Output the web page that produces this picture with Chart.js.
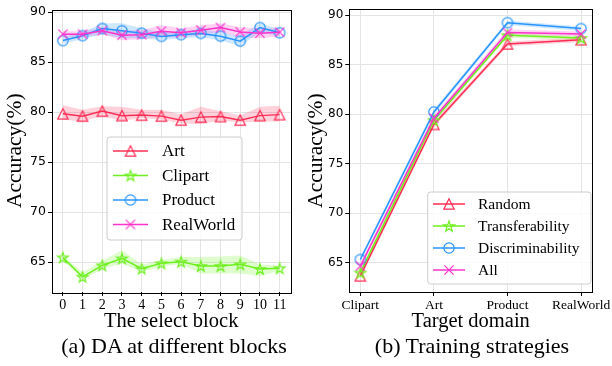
<!DOCTYPE html>
<html>
<head>
<meta charset="utf-8">
<script src="https://cdn.jsdelivr.net/npm/chart.js@4.4.1/dist/chart.umd.min.js"></script>
<style>
  html, body { margin: 0; padding: 0; background: #fff; }
  #wrap { position: relative; width: 612px; height: 366px; overflow: hidden; }
  canvas { position: absolute; top: 0; }
  .cap { position: absolute; font-family: "Liberation Serif", "Times New Roman", serif; font-size: 22px; line-height: 26px; white-space: nowrap; transform: translateX(-50%); color: #000; }
</style>
</head>
<body>
<div id="wrap">
  <canvas id="c1" width="298" height="366" style="left:0px"></canvas>
  <canvas id="c2" width="314" height="366" style="left:298px"></canvas>
  <div class="cap" style="left:174px; top:333px">(a) DA at different blocks</div>
  <div class="cap" style="left:472px; top:333px">(b) Training strategies</div>
</div>
<script>
// ---------- data: (a) DA at different blocks ----------
const blocks = [0, 1, 2, 3, 4, 5, 6, 7, 8, 9, 10, 11];
const artMean = [79.83, 79.6, 80.1, 79.65, 79.7, 79.6, 79.2, 79.5, 79.55, 79.2, 79.65, 79.75];
const artHi   = [80.7, 80.25, 80.6, 80.55, 80.25, 80.25, 79.8, 80.55, 80.1, 79.65, 80.55, 80.65];
const artLo   = [79.25, 79.05, 79.6, 79.1, 79.4, 79.25, 78.85, 78.8, 79.15, 78.95, 79.05, 79.05];
const clipMean = [65.46, 63.52, 64.67, 65.36, 64.34, 64.87, 65.03, 64.6, 64.6, 64.77, 64.31, 64.38];
const clipHi   = [65.65, 63.95, 65.1, 66.2, 64.75, 65.2, 65.5, 65.5, 65.55, 65.65, 64.75, 64.65];
const clipLo   = [65.15, 63.25, 64.3, 64.85, 64.0, 64.55, 64.8, 63.85, 63.85, 63.85, 63.6, 64.1];
const prodMean = [87.16, 87.65, 88.37, 88.14, 87.9, 87.58, 87.75, 87.88, 87.6, 87.1, 88.46, 87.94];
const prodHi   = [87.5, 88.0, 88.9, 88.9, 88.4, 88.0, 88.1, 88.3, 88.0, 87.6, 88.9, 88.3];
const prodLo   = [86.85, 87.3, 87.8, 87.4, 87.4, 87.2, 87.4, 87.5, 87.2, 86.6, 88.0, 87.6];
const realMean = [87.8, 87.8, 88.14, 87.7, 87.75, 88.1, 87.94, 88.2, 88.46, 88.03, 87.9, 88.0];
const realHi   = [88.1, 88.1, 88.5, 88.2, 88.2, 88.7, 88.4, 88.7, 88.9, 88.5, 88.4, 88.4];
const realLo   = [87.5, 87.5, 87.8, 87.2, 87.3, 87.5, 87.5, 87.7, 88.0, 87.5, 87.4, 87.6];
const seriesA = ["Art", "Clipart", "Product", "RealWorld"];

// ---------- data: (b) Training strategies ----------
const domains = ["Clipart", "Art", "Product", "RealWorld"];
const randMean = [63.68, 78.97, 87.09, 87.52];
const randHi   = [63.95, 79.25, 87.35, 87.75];
const randLo   = [63.4, 78.7, 86.85, 87.3];
const tranMean = [64.0, 79.4, 87.98, 87.68];
const tranHi   = [64.3, 79.7, 88.2, 87.9];
const tranLo   = [63.7, 79.1, 87.75, 87.45];
const discMean = [65.33, 80.23, 89.24, 88.64];
const discHi   = [65.6, 80.5, 89.45, 88.85];
const discLo   = [65.05, 79.95, 89.0, 88.4];
const allMean  = [64.67, 79.6, 88.24, 88.1];
const allHi    = [64.95, 79.9, 88.55, 88.35];
const allLo    = [64.4, 79.3, 87.95, 87.85];
const seriesB = ["Random", "Transferability", "Discriminability", "All"];

const yTicks = [65, 70, 75, 80, 85, 90];

// ---------- styling ----------
const RED = "#FF2D55", GREEN = "#6EF01E", BLUE = "#2794FF", PINK = "#FF33CC";
function rgba(hex, a) {
  const n = parseInt(hex.slice(1), 16);
  return `rgba(${(n >> 16) & 255},${(n >> 8) & 255},${n & 255},${a})`;
}
const SERIF = "'Liberation Serif', 'Times New Roman', serif";
const SANS = "'DejaVu Sans', sans-serif";

function markerCanvas(kind, color) {
  const c = document.createElement("canvas");
  c.width = 20; c.height = 20;
  const g = c.getContext("2d");
  g.strokeStyle = color; g.lineWidth = 1.2; g.lineJoin = "miter";
  const cx = 10, cy = 10, r = 5.2;
  g.beginPath();
  if (kind === "circle") {
    g.arc(cx, cy, r, 0, Math.PI * 2);
  } else if (kind === "triangle") {
    g.moveTo(cx, cy - r); g.lineTo(cx - r, cy + r); g.lineTo(cx + r, cy + r); g.closePath();
  } else if (kind === "x") {
    const d = 4.6;
    g.moveTo(cx - d, cy - d); g.lineTo(cx + d, cy + d);
    g.moveTo(cx - d, cy + d); g.lineTo(cx + d, cy - d);
  } else if (kind === "star") {
    const ro = 5.6, ri = ro * 0.382;
    for (let i = 0; i < 10; i++) {
      const rr = i % 2 === 0 ? ro : ri;
      const a = -Math.PI / 2 + i * Math.PI / 5;
      const px = cx + rr * Math.cos(a), py = cy + 0.6 + rr * Math.sin(a);
      if (i === 0) g.moveTo(px, py); else g.lineTo(px, py);
    }
    g.closePath();
  }
  g.stroke();
  return c;
}

function lineSet(label, xs, ys, color, marker, order) {
  return {
    label, data: xs.map((x, i) => ({ x, y: ys[i] })),
    borderColor: color, borderWidth: 1.5, backgroundColor: "rgba(0,0,0,0)",
    pointStyle: markerCanvas(marker, color), pointRadius: 6, pointHoverRadius: 6,
    tension: 0, fill: false, order, _legend: true, _marker: marker
  };
}
function bandSets(xs, hi, lo, color) {
  return [
    { label: "", data: xs.map((x, i) => ({ x, y: hi[i] })), borderWidth: 0, borderColor: "rgba(0,0,0,0)",
      pointRadius: 0, fill: false, order: 20 },
    { label: "", data: xs.map((x, i) => ({ x, y: lo[i] })), borderWidth: 0, borderColor: "rgba(0,0,0,0)",
      pointRadius: 0, fill: "-1", backgroundColor: rgba(color, 0.22), order: 20 }
  ];
}

const framePlugin = {
  id: "frame",
  afterDraw(chart) {
    const { ctx, chartArea: a } = chart;
    ctx.save();
    ctx.strokeStyle = "#000"; ctx.lineWidth = 1;
    ctx.strokeRect(Math.round(a.left) + 0.5, Math.round(a.top) + 0.5, Math.round(a.right - a.left), Math.round(a.bottom - a.top));
    ctx.restore();
    const L = chart.options.plugins.boxLegend;
    if (!L) return;
    ctx.save();
    const r = 3;
    ctx.beginPath();
    ctx.moveTo(L.x1 + r, L.y1); ctx.lineTo(L.x2 - r, L.y1); ctx.quadraticCurveTo(L.x2, L.y1, L.x2, L.y1 + r);
    ctx.lineTo(L.x2, L.y2 - r); ctx.quadraticCurveTo(L.x2, L.y2, L.x2 - r, L.y2);
    ctx.lineTo(L.x1 + r, L.y2); ctx.quadraticCurveTo(L.x1, L.y2, L.x1, L.y2 - r);
    ctx.lineTo(L.x1, L.y1 + r); ctx.quadraticCurveTo(L.x1, L.y1, L.x1 + r, L.y1);
    ctx.closePath();
    ctx.fillStyle = "rgba(255,255,255,0.8)"; ctx.fill();
    ctx.strokeStyle = "#cccccc"; ctx.lineWidth = 1; ctx.stroke();
    const items = chart.data.datasets.filter(d => d._legend);
    ctx.font = L.font;
    ctx.textBaseline = "middle"; ctx.textAlign = "left"; ctx.fillStyle = "#000";
    items.forEach((d, i) => {
      const y = L.rows[i];
      ctx.strokeStyle = d.borderColor; ctx.lineWidth = 1.5;
      ctx.beginPath(); ctx.moveTo(L.lx1, y); ctx.lineTo(L.lx2, y); ctx.stroke();
      const m = d.pointStyle;
      ctx.drawImage(m, (L.lx1 + L.lx2) / 2 - m.width / 2, y - m.height / 2);
      ctx.fillStyle = "#000";
      ctx.fillText(d.label, L.tx, y + 1);
    });
    ctx.restore();
  }
};

function fixTicks(values) {
  return function (scale) { scale.ticks = values.map(v => ({ value: v })); };
}

function makeOpts(cfg) {
  return {
    responsive: false, animation: false, devicePixelRatio: 1,
    layout: { padding: cfg.padding },
    plugins: { legend: { display: false }, tooltip: { enabled: false }, boxLegend: cfg.legend },
    scales: {
      x: {
        type: "linear", min: cfg.xmin, max: cfg.xmax,
        afterBuildTicks: fixTicks(cfg.xticks),
        afterFit(s) { s.height = 42; },
        grid: { color: "#e4e4e4", lineWidth: 1, drawTicks: true, tickLength: 4, tickColor: "#000" },
        border: { display: false },
        ticks: { font: { family: SERIF, size: cfg.xTickSize }, color: "#000", padding: 1, maxRotation: 0, autoSkip: false,
                 callback: cfg.xcb },
        title: { display: true, text: cfg.xtitle, color: "#000", font: { family: SERIF, size: 20.5 }, padding: { top: 0, bottom: 0 } }
      },
      y: {
        type: "linear", min: cfg.ymin, max: cfg.ymax,
        afterBuildTicks: fixTicks(yTicks),
        afterFit(s) { s.width = cfg.yw; },
        grid: { color: "#e4e4e4", lineWidth: 1, drawTicks: true, tickLength: 4, tickColor: "#000" },
        border: { display: false },
        ticks: { font: { family: SANS, size: cfg.yTickSize }, color: "#000", padding: 2 },
        title: { display: true, text: "Accuracy(%)", color: "#000", font: { family: SERIF, size: 21.5 }, padding: { top: cfg.ytpad, bottom: 0 } }
      }
    }
  };
}

// ---------- chart (a) ----------
new Chart(document.getElementById("c1"), {
  type: "line",
  data: {
    datasets: [
      lineSet(seriesA[0], blocks, artMean, RED, "triangle", 4),
      lineSet(seriesA[1], blocks, clipMean, GREEN, "star", 3),
      lineSet(seriesA[2], blocks, prodMean, BLUE, "circle", 2),
      lineSet(seriesA[3], blocks, realMean, PINK, "x", 1),
      ...bandSets(blocks, artHi, artLo, RED),
      ...bandSets(blocks, clipHi, clipLo, GREEN),
      ...bandSets(blocks, prodHi, prodLo, BLUE),
      ...bandSets(blocks, realHi, realLo, PINK)
    ]
  },
  options: makeOpts({
    padding: { left: 0, right: 2, top: 5, bottom: 32 },
    xmin: -0.55, xmax: 11.55, xticks: blocks, xcb: v => String(v), xTickSize: 14,
    xtitle: "The select block",
    ymin: 62.0, ymax: 90.27, yw: 52, ytpad: 2, yTickSize: 12.5,
    legend: { x1: 107, y1: 137, x2: 242, y2: 240, rows: [151, 175.5, 200, 224.5], lx1: 113, lx2: 148, tx: 162,
              font: "17px " + SERIF }
  }),
  plugins: [framePlugin]
});

// ---------- chart (b) ----------
const dIdx = domains.map((d, i) => i);
new Chart(document.getElementById("c2"), {
  type: "line",
  data: {
    datasets: [
      lineSet(seriesB[0], dIdx, randMean, RED, "triangle", 4),
      lineSet(seriesB[1], dIdx, tranMean, GREEN, "star", 3),
      lineSet(seriesB[2], dIdx, discMean, BLUE, "circle", 2),
      lineSet(seriesB[3], dIdx, allMean, PINK, "x", 1),
      ...bandSets(dIdx, randHi, randLo, RED),
      ...bandSets(dIdx, tranHi, tranLo, GREEN),
      ...bandSets(dIdx, discHi, discLo, BLUE),
      ...bandSets(dIdx, allHi, allLo, PINK)
    ]
  },
  options: makeOpts({
    padding: { left: 0, right: 18.7, top: 4.7, bottom: 32 },
    xmin: -0.15, xmax: 3.15, xticks: dIdx, xcb: v => domains[v], xTickSize: 13.5,
    xtitle: "Target domain",
    ymin: 62.05, ymax: 90.6, yw: 51.3, ytpad: 5, yTickSize: 12,
    legend: { x1: 129.7, y1: 192, x2: 293, y2: 284, rows: [204, 226, 248, 270], lx1: 135, lx2: 167, tx: 180,
              font: "15.5px " + SERIF }
  }),
  plugins: [framePlugin]
});
</script>
</body>
</html>
